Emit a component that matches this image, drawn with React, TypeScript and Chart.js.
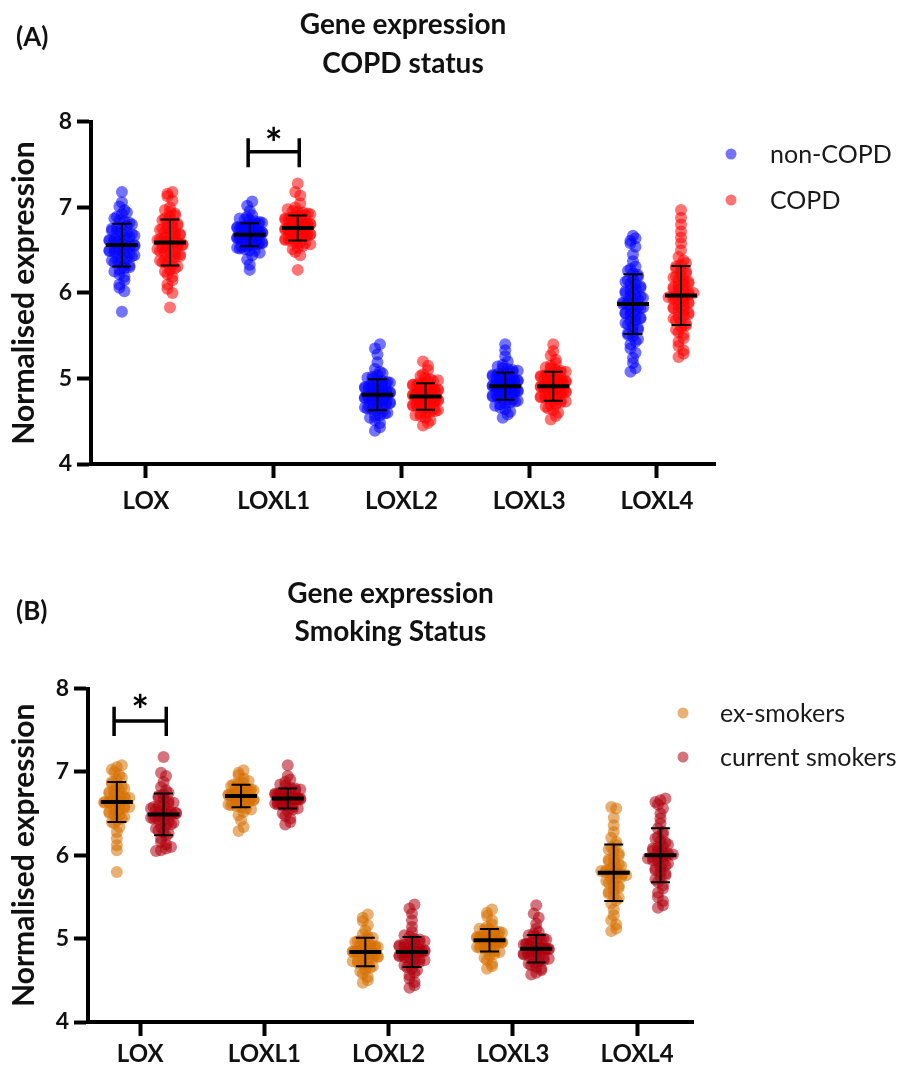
import React, { useEffect, useRef } from 'react';
import { Chart, registerables } from 'chart.js';

Chart.register(...registerables);

const genes = ['LOX', 'LOXL1', 'LOXL2', 'LOXL3', 'LOXL4'];
const yTickValues = [4, 5, 6, 7, 8];

// ---------- Panel A: COPD status (values read from the dot clouds) ----------
const nonCOPD_LOX = [7.18, 7.06, 7.01, 6.97, 6.94, 6.92, 6.89, 6.87, 6.85, 6.84, 6.82, 6.80, 6.79, 6.77, 6.76, 6.75, 6.73, 6.72, 6.71, 6.70, 6.69, 6.67, 6.66, 6.65, 6.64, 6.63, 6.62, 6.61, 6.60, 6.59, 6.58, 6.57, 6.56,
  5.78, 6.02, 6.06, 6.10, 6.15, 6.19, 6.22, 6.25, 6.27, 6.29, 6.30, 6.32, 6.33, 6.35, 6.36, 6.38, 6.39, 6.40, 6.41, 6.43, 6.44, 6.45, 6.46, 6.47, 6.48, 6.49, 6.50, 6.51, 6.52, 6.53, 6.54, 6.55, 6.56];
const nonCOPD_LOXL1 = [7.07, 7.02, 6.96, 6.91, 6.89, 6.87, 6.86, 6.85, 6.84, 6.83, 6.82, 6.81, 6.80, 6.79, 6.79, 6.78, 6.77, 6.77, 6.76, 6.75, 6.75, 6.74, 6.74, 6.73, 6.72, 6.72, 6.71, 6.71, 6.70, 6.70, 6.69, 6.69, 6.68,
  6.27, 6.33, 6.39, 6.44, 6.47, 6.49, 6.50, 6.51, 6.52, 6.53, 6.54, 6.55, 6.56, 6.57, 6.57, 6.58, 6.59, 6.59, 6.60, 6.61, 6.61, 6.62, 6.62, 6.63, 6.64, 6.64, 6.65, 6.65, 6.66, 6.66, 6.67, 6.67, 6.68];
const nonCOPD_LOXL2 = [5.40, 5.35, 5.28, 5.19, 5.11, 5.08, 5.06, 5.04, 5.02, 5.01, 4.99, 4.98, 4.97, 4.96, 4.95, 4.94, 4.93, 4.92, 4.92, 4.91, 4.90, 4.89, 4.88, 4.88, 4.87, 4.86, 4.85, 4.85, 4.84, 4.83, 4.82, 4.82, 4.81,
  4.39, 4.43, 4.48, 4.51, 4.54, 4.56, 4.57, 4.59, 4.60, 4.61, 4.63, 4.64, 4.65, 4.66, 4.67, 4.68, 4.69, 4.70, 4.70, 4.71, 4.72, 4.73, 4.74, 4.74, 4.75, 4.76, 4.77, 4.77, 4.78, 4.79, 4.80, 4.80, 4.81];
const nonCOPD_LOXL3 = [5.40, 5.33, 5.26, 5.20, 5.16, 5.14, 5.12, 5.11, 5.10, 5.09, 5.08, 5.07, 5.06, 5.05, 5.04, 5.03, 5.02, 5.01, 5.00, 5.00, 4.99, 4.98, 4.98, 4.97, 4.96, 4.96, 4.95, 4.94, 4.94, 4.93, 4.92, 4.92, 4.91,
  4.54, 4.58, 4.61, 4.64, 4.66, 4.68, 4.70, 4.71, 4.72, 4.73, 4.74, 4.75, 4.76, 4.77, 4.78, 4.79, 4.80, 4.81, 4.82, 4.82, 4.83, 4.84, 4.84, 4.85, 4.86, 4.86, 4.87, 4.88, 4.88, 4.89, 4.90, 4.90, 4.91];
const nonCOPD_LOXL4 = [6.67, 6.64, 6.61, 6.58, 6.54, 6.45, 6.37, 6.31, 6.28, 6.26, 6.23, 6.21, 6.19, 6.17, 6.15, 6.13, 6.11, 6.10, 6.08, 6.06, 6.05, 6.03, 6.02, 6.00, 5.98, 5.97, 5.96, 5.94, 5.93, 5.91, 5.90, 5.89, 5.87,
  5.08, 5.12, 5.18, 5.24, 5.30, 5.35, 5.40, 5.43, 5.46, 5.49, 5.51, 5.53, 5.55, 5.57, 5.59, 5.61, 5.63, 5.65, 5.67, 5.68, 5.70, 5.71, 5.73, 5.75, 5.76, 5.77, 5.79, 5.80, 5.82, 5.83, 5.84, 5.86, 5.87];

const COPD_LOX = [7.18, 7.16, 7.13, 7.08, 7.00, 6.97, 6.95, 6.93, 6.91, 6.89, 6.87, 6.85, 6.84, 6.82, 6.81, 6.79, 6.78, 6.76, 6.75, 6.74, 6.72, 6.71, 6.70, 6.69, 6.68, 6.67, 6.66, 6.65, 6.63, 6.62, 6.61, 6.60, 6.59,
  5.83, 6.00, 6.05, 6.10, 6.15, 6.19, 6.22, 6.25, 6.27, 6.29, 6.31, 6.33, 6.35, 6.36, 6.38, 6.39, 6.41, 6.42, 6.43, 6.45, 6.46, 6.47, 6.48, 6.49, 6.51, 6.52, 6.53, 6.54, 6.55, 6.56, 6.57, 6.58, 6.59];
const COPD_LOXL1 = [7.28, 7.18, 7.14, 7.05, 7.00, 6.98, 6.96, 6.95, 6.94, 6.93, 6.92, 6.91, 6.90, 6.89, 6.88, 6.87, 6.86, 6.86, 6.85, 6.84, 6.83, 6.83, 6.82, 6.81, 6.81, 6.80, 6.79, 6.79, 6.78, 6.78, 6.77, 6.77, 6.76,
  6.27, 6.44, 6.48, 6.51, 6.53, 6.55, 6.57, 6.58, 6.59, 6.60, 6.61, 6.62, 6.63, 6.64, 6.64, 6.65, 6.66, 6.67, 6.67, 6.68, 6.69, 6.69, 6.70, 6.71, 6.71, 6.72, 6.72, 6.73, 6.74, 6.74, 6.75, 6.75, 6.76];
const COPD_LOXL2 = [5.20, 5.15, 5.10, 5.05, 5.03, 5.01, 4.99, 4.98, 4.97, 4.96, 4.95, 4.94, 4.93, 4.92, 4.91, 4.91, 4.90, 4.89, 4.88, 4.87, 4.87, 4.86, 4.85, 4.85, 4.84, 4.83, 4.83, 4.82, 4.82, 4.81, 4.80, 4.80, 4.79,
  4.45, 4.48, 4.51, 4.54, 4.56, 4.57, 4.59, 4.60, 4.61, 4.62, 4.63, 4.64, 4.65, 4.66, 4.67, 4.68, 4.68, 4.69, 4.70, 4.71, 4.71, 4.72, 4.73, 4.73, 4.74, 4.75, 4.75, 4.76, 4.77, 4.77, 4.78, 4.78, 4.79];
const COPD_LOXL3 = [5.40, 5.32, 5.27, 5.22, 5.18, 5.15, 5.13, 5.12, 5.10, 5.09, 5.08, 5.07, 5.06, 5.05, 5.04, 5.03, 5.02, 5.01, 5.00, 5.00, 4.99, 4.98, 4.97, 4.97, 4.96, 4.95, 4.95, 4.94, 4.93, 4.93, 4.92, 4.91, 4.91,
  4.52, 4.56, 4.60, 4.63, 4.65, 4.67, 4.69, 4.70, 4.72, 4.73, 4.74, 4.75, 4.76, 4.77, 4.78, 4.79, 4.80, 4.81, 4.82, 4.82, 4.83, 4.84, 4.85, 4.85, 4.86, 4.87, 4.87, 4.88, 4.89, 4.89, 4.90, 4.90, 4.91];
const COPD_LOXL4 = [6.97, 6.88, 6.80, 6.72, 6.65, 6.58, 6.50, 6.42, 6.38, 6.35, 6.33, 6.31, 6.29, 6.27, 6.25, 6.23, 6.21, 6.19, 6.18, 6.16, 6.14, 6.13, 6.11, 6.10, 6.08, 6.07, 6.05, 6.04, 6.02, 6.01, 6.00, 5.98, 5.97,
  5.25, 5.29, 5.33, 5.38, 5.43, 5.47, 5.51, 5.54, 5.57, 5.60, 5.62, 5.64, 5.66, 5.68, 5.70, 5.72, 5.74, 5.75, 5.77, 5.79, 5.80, 5.82, 5.83, 5.85, 5.86, 5.88, 5.89, 5.91, 5.92, 5.93, 5.95, 5.96, 5.97];

const nonCOPDMean = [6.56, 6.68, 4.81, 4.91, 5.87];
const nonCOPDSD = [0.25, 0.135, 0.18, 0.16, 0.35];
const COPDMean = [6.59, 6.76, 4.79, 4.91, 5.97];
const COPDSD = [0.27, 0.145, 0.155, 0.17, 0.345];

// ---------- Panel B: smoking status ----------
const ex_LOX = [7.08, 7.06, 7.03, 7.00, 6.96, 6.93, 6.91, 6.88, 6.86, 6.84, 6.82, 6.80, 6.79, 6.77, 6.76, 6.74, 6.73, 6.71, 6.70, 6.69, 6.68, 6.66, 6.65, 6.65, 6.64,
  5.80, 6.06, 6.12, 6.20, 6.28, 6.34, 6.38, 6.40, 6.42, 6.44, 6.46, 6.48, 6.49, 6.51, 6.52, 6.54, 6.55, 6.57, 6.58, 6.59, 6.60, 6.62, 6.63, 6.63, 6.64];
const ex_LOXL1 = [7.02, 6.99, 6.96, 6.92, 6.89, 6.87, 6.86, 6.85, 6.83, 6.82, 6.81, 6.80, 6.79, 6.78, 6.77, 6.77, 6.76, 6.75, 6.74, 6.74, 6.73, 6.72, 6.72, 6.71, 6.71,
  6.29, 6.34, 6.42, 6.48, 6.52, 6.55, 6.56, 6.58, 6.59, 6.60, 6.61, 6.62, 6.63, 6.64, 6.65, 6.65, 6.66, 6.67, 6.68, 6.68, 6.69, 6.69, 6.70, 6.70, 6.71];
const ex_LOXL2 = [5.29, 5.25, 5.21, 5.16, 5.10, 5.05, 5.03, 5.01, 5.00, 4.98, 4.97, 4.96, 4.94, 4.93, 4.92, 4.91, 4.90, 4.89, 4.88, 4.87, 4.87, 4.86, 4.85, 4.85, 4.84,
  4.47, 4.50, 4.54, 4.58, 4.61, 4.63, 4.65, 4.67, 4.69, 4.70, 4.71, 4.73, 4.74, 4.75, 4.76, 4.77, 4.78, 4.79, 4.80, 4.81, 4.82, 4.82, 4.83, 4.83, 4.84];
const ex_LOXL3 = [5.35, 5.31, 5.27, 5.22, 5.17, 5.14, 5.12, 5.11, 5.10, 5.09, 5.08, 5.07, 5.06, 5.05, 5.04, 5.04, 5.03, 5.02, 5.01, 5.01, 5.00, 4.99, 4.99, 4.98, 4.98,
  4.64, 4.67, 4.70, 4.74, 4.77, 4.80, 4.82, 4.84, 4.85, 4.87, 4.88, 4.89, 4.90, 4.91, 4.92, 4.92, 4.93, 4.94, 4.95, 4.95, 4.96, 4.96, 4.97, 4.97, 4.98];
const ex_LOXL4 = [6.58, 6.56, 6.45, 6.36, 6.28, 6.21, 6.16, 6.12, 6.10, 6.07, 6.05, 6.02, 6.00, 5.97, 5.95, 5.93, 5.91, 5.89, 5.87, 5.85, 5.84, 5.82, 5.81, 5.80, 5.79,
  5.09, 5.12, 5.17, 5.22, 5.28, 5.35, 5.42, 5.46, 5.49, 5.52, 5.54, 5.56, 5.58, 5.61, 5.63, 5.65, 5.67, 5.69, 5.71, 5.72, 5.74, 5.76, 5.77, 5.78, 5.79];

const cur_LOX = [7.18, 6.99, 6.95, 6.88, 6.82, 6.78, 6.75, 6.73, 6.71, 6.69, 6.67, 6.65, 6.63, 6.62, 6.60, 6.59, 6.58, 6.56, 6.55, 6.54, 6.53, 6.52, 6.51, 6.50, 6.49,
  6.05, 6.06, 6.08, 6.10, 6.13, 6.16, 6.20, 6.23, 6.26, 6.28, 6.30, 6.32, 6.34, 6.36, 6.37, 6.39, 6.40, 6.42, 6.43, 6.44, 6.45, 6.46, 6.47, 6.48, 6.49];
const cur_LOXL1 = [7.08, 6.95, 6.91, 6.88, 6.85, 6.83, 6.81, 6.80, 6.79, 6.78, 6.77, 6.76, 6.75, 6.74, 6.73, 6.73, 6.72, 6.71, 6.71, 6.70, 6.70, 6.69, 6.69, 6.68, 6.68,
  6.37, 6.40, 6.44, 6.47, 6.50, 6.53, 6.55, 6.56, 6.58, 6.59, 6.60, 6.61, 6.62, 6.63, 6.63, 6.64, 6.65, 6.65, 6.66, 6.66, 6.67, 6.67, 6.67, 6.68, 6.68];
const cur_LOXL2 = [5.41, 5.36, 5.30, 5.22, 5.14, 5.08, 5.04, 5.02, 5.00, 4.99, 4.97, 4.96, 4.95, 4.94, 4.93, 4.92, 4.91, 4.90, 4.89, 4.88, 4.87, 4.86, 4.85, 4.85, 4.84,
  4.41, 4.44, 4.48, 4.52, 4.56, 4.59, 4.62, 4.64, 4.66, 4.68, 4.70, 4.71, 4.72, 4.74, 4.75, 4.76, 4.77, 4.78, 4.79, 4.80, 4.81, 4.82, 4.83, 4.83, 4.84];
const cur_LOXL3 = [5.40, 5.30, 5.25, 5.18, 5.12, 5.08, 5.06, 5.04, 5.03, 5.01, 5.00, 4.99, 4.98, 4.96, 4.95, 4.94, 4.93, 4.93, 4.92, 4.91, 4.90, 4.89, 4.89, 4.88, 4.88,
  4.57, 4.59, 4.62, 4.64, 4.66, 4.68, 4.70, 4.72, 4.73, 4.74, 4.76, 4.77, 4.78, 4.79, 4.80, 4.81, 4.82, 4.83, 4.84, 4.85, 4.85, 4.86, 4.87, 4.87, 4.88];
const cur_LOXL4 = [6.68, 6.66, 6.64, 6.61, 6.56, 6.50, 6.44, 6.38, 6.32, 6.28, 6.25, 6.22, 6.20, 6.17, 6.15, 6.13, 6.11, 6.09, 6.08, 6.06, 6.05, 6.03, 6.02, 6.01, 6.00,
  5.37, 5.40, 5.45, 5.50, 5.55, 5.60, 5.64, 5.68, 5.71, 5.74, 5.76, 5.78, 5.80, 5.82, 5.84, 5.86, 5.88, 5.90, 5.91, 5.93, 5.94, 5.96, 5.97, 5.98, 5.99];

const exMean = [6.64, 6.71, 4.84, 4.98, 5.79];
const exSD = [0.24, 0.135, 0.17, 0.135, 0.34];
const curMean = [6.49, 6.68, 4.84, 4.88, 6.00];
const curSD = [0.25, 0.12, 0.18, 0.165, 0.325];

const nonCOPD = [nonCOPD_LOX, nonCOPD_LOXL1, nonCOPD_LOXL2, nonCOPD_LOXL3, nonCOPD_LOXL4];
const COPD = [COPD_LOX, COPD_LOXL1, COPD_LOXL2, COPD_LOXL3, COPD_LOXL4];
const exSmokers = [ex_LOX, ex_LOXL1, ex_LOXL2, ex_LOXL3, ex_LOXL4];
const curSmokers = [cur_LOX, cur_LOXL1, cur_LOXL2, cur_LOXL3, cur_LOXL4];

const SIDE_OFF = 0.188;
const FONT = 'Lato, "Open Sans", sans-serif';
const INK = '#111';

// deterministic beeswarm layout (rows of near-equal values spread horizontally)
function swarm(values: number[], cat: number, side: number, xPx: number, yPx: number) {
  const sorted = [...values].sort((a, b) => a - b);
  const binH = 5 / yPx;
  const rows: number[][] = [];
  let cur: number[] = [];
  let start = -Infinity;
  for (const v of sorted) {
    if (cur.length && v - start < binH) cur.push(v);
    else {
      if (cur.length) rows.push(cur);
      cur = [v];
      start = v;
    }
  }
  if (cur.length) rows.push(cur);
  const pts: { x: number; y: number }[] = [];
  rows.forEach((row, r) => {
    const n = row.length;
    const sp = n > 1 ? Math.min(5, 25 / (n - 1)) : 0;
    const order = row.map((_, i) => i);
    if (r % 2) order.reverse();
    order.forEach((slot, i) => {
      pts.push({ x: cat + side * SIDE_OFF + ((slot - (n - 1) / 2) * sp) / xPx, y: row[i] });
    });
  });
  return pts;
}

type Series = { label: string; groups: number[][]; mean: number[]; sd: number[]; color: string; side: number };

type PanelCfg = {
  height: number;
  top: number;
  tag: string;
  tagY: number;
  title: string[];
  titleLH: number;
  titlePad: { top: number; bottom: number };
  yWidth: number;
  xHeight: number;
  xPad: number;
  padRight: number;
  xMin: number;
  xMax: number;
  xPx: number;
  yPx: number;
  series: Series[];
  legend: { x: number; tx: number; y: number[] };
  bracket: { cat: number; half: number; top: number; mid: number; bot: number; star: number };
};

function Panel({ cfg }: { cfg: PanelCfg }) {
  const ref = useRef<HTMLCanvasElement | null>(null);
  useEffect(() => {
    if (!ref.current) return;
    const decor = {
      id: 'decor',
      afterDatasetsDraw(chart: any) {
        const { ctx, scales } = chart;
        const xs = scales.x;
        const ys = scales.y;
        ctx.save();
        ctx.strokeStyle = '#000';
        ctx.lineCap = 'butt';
        cfg.series.forEach((s) => {
          genes.forEach((_, i) => {
            const cx = xs.getPixelForValue(i + s.side * SIDE_OFF);
            const ym = ys.getPixelForValue(s.mean[i]);
            const yt = ys.getPixelForValue(s.mean[i] + s.sd[i]);
            const yb = ys.getPixelForValue(s.mean[i] - s.sd[i]);
            ctx.lineWidth = 2;
            ctx.beginPath();
            ctx.moveTo(cx, yt);
            ctx.lineTo(cx, yb);
            ctx.moveTo(cx - 9.5, yt);
            ctx.lineTo(cx + 9.5, yt);
            ctx.moveTo(cx - 9.5, yb);
            ctx.lineTo(cx + 9.5, yb);
            ctx.stroke();
            ctx.lineWidth = 4;
            ctx.beginPath();
            ctx.moveTo(cx - 16, ym);
            ctx.lineTo(cx + 16, ym);
            ctx.stroke();
          });
        });
        ctx.restore();
      },
      afterDraw(chart: any) {
        const { ctx, scales } = chart;
        const xs = scales.x;
        const ys = scales.y;
        ctx.save();
        // panel tag
        ctx.fillStyle = INK;
        ctx.font = `bold 26px ${FONT}`;
        ctx.textAlign = 'left';
        ctx.textBaseline = 'middle';
        ctx.fillText(cfg.tag, 16, cfg.tagY);
        // legend
        cfg.series.forEach((s, k) => {
          const y = cfg.legend.y[k];
          ctx.fillStyle = s.color;
          ctx.beginPath();
          ctx.arc(cfg.legend.x, y, 5.5, 0, Math.PI * 2);
          ctx.fill();
          ctx.fillStyle = '#1a1a1a';
          ctx.font = `25px ${FONT}`;
          ctx.textAlign = 'left';
          ctx.textBaseline = 'middle';
          ctx.fillText(s.label, cfg.legend.tx, y + 1);
        });
        // significance bracket
        const b = cfg.bracket;
        const xl = xs.getPixelForValue(b.cat - b.half);
        const xr = xs.getPixelForValue(b.cat + b.half);
        const yT = ys.getPixelForValue(b.top);
        const yM = ys.getPixelForValue(b.mid);
        const yB = ys.getPixelForValue(b.bot);
        ctx.strokeStyle = '#000';
        ctx.lineWidth = 3.5;
        ctx.beginPath();
        ctx.moveTo(xl, yT);
        ctx.lineTo(xl, yB);
        ctx.moveTo(xr, yT);
        ctx.lineTo(xr, yB);
        ctx.moveTo(xl, yM);
        ctx.lineTo(xr, yM);
        ctx.stroke();
        ctx.fillStyle = '#000';
        ctx.font = `bold 42px ${FONT}`;
        ctx.textAlign = 'center';
        ctx.textBaseline = 'alphabetic';
        const m = ctx.measureText('*');
        const cy = ys.getPixelForValue(b.star);
        ctx.fillText('*', (xl + xr) / 2, cy + (m.actualBoundingBoxAscent - m.actualBoundingBoxDescent) / 2);
        ctx.restore();
      },
    };

    const chart = new Chart(ref.current, {
      type: 'scatter',
      data: {
        datasets: cfg.series.map((s) => ({
          label: s.label,
          data: s.groups.flatMap((vals, i) => swarm(vals, i, s.side, cfg.xPx, cfg.yPx)),
          backgroundColor: s.color,
          borderWidth: 0,
          pointRadius: 6,
          pointHoverRadius: 6,
        })),
      },
      options: {
        responsive: false,
        animation: false,
        events: [],
        layout: { padding: { left: 0, right: cfg.padRight, top: 0, bottom: 0 } },
        plugins: {
          legend: { display: false },
          tooltip: { enabled: false },
          title: {
            display: true,
            text: cfg.title,
            fullSize: false,
            color: INK,
            font: { family: FONT, size: 28, weight: 'bold', lineHeight: cfg.titleLH },
            padding: cfg.titlePad,
          },
        },
        scales: {
          x: {
            type: 'linear',
            min: cfg.xMin,
            max: cfg.xMax,
            afterBuildTicks: (s: any) => {
              s.ticks = genes.map((_, i) => ({ value: i }));
            },
            afterFit: (s: any) => {
              s.height = cfg.xHeight;
            },
            ticks: {
              autoSkip: false,
              maxRotation: 0,
              padding: cfg.xPad,
              color: INK,
              font: { family: FONT, size: 24, weight: 'bold' },
              callback: (v: any) => genes[Math.round(Number(v))] ?? '',
            },
            grid: { drawOnChartArea: false, drawTicks: true, tickLength: 14, tickWidth: 4, tickColor: '#000' },
            border: { display: true, color: '#000', width: 4 },
          },
          y: {
            min: 4,
            max: 8,
            afterBuildTicks: (s: any) => {
              s.ticks = yTickValues.map((v) => ({ value: v }));
            },
            afterFit: (s: any) => {
              s.width = cfg.yWidth;
            },
            ticks: {
              padding: 5,
              color: INK,
              font: { family: FONT, size: 23, weight: 'bold' },
              callback: (v: any) => String(v),
            },
            grid: { drawOnChartArea: false, drawTicks: true, tickLength: 14, tickWidth: 4, tickColor: '#000' },
            border: { display: true, color: '#000', width: 4 },
            title: {
              display: true,
              text: 'Normalised expression',
              color: INK,
              font: { family: FONT, size: 30, weight: 'bold', lineHeight: 1.2 },
              padding: { top: 6, bottom: 0 },
            },
          },
        },
      },
      plugins: [decor],
    } as any);
    return () => chart.destroy();
  }, [cfg]);

  return (
    <canvas
      ref={ref}
      width={908}
      height={cfg.height}
      style={{ position: 'absolute', left: 0, top: cfg.top, display: 'block' }}
    />
  );
}

const panelA: PanelCfg = {
  height: 530,
  top: 0,
  tag: '(A)',
  tagY: 38,
  title: ['Gene expression', 'COPD status'],
  titleLH: 1.39,
  titlePad: { top: 5.5, bottom: 38.6 },
  yWidth: 91,
  xHeight: 66,
  xPad: 9,
  padRight: 193,
  xMin: -0.43,
  xMax: 4.454,
  xPx: 127.75,
  yPx: 85.5,
  series: [
    { label: 'non-COPD', groups: nonCOPD, mean: nonCOPDMean, sd: nonCOPDSD, color: 'rgba(0,0,255,0.55)', side: -1 },
    { label: 'COPD', groups: COPD, mean: COPDMean, sd: COPDSD, color: 'rgba(255,0,0,0.55)', side: 1 },
  ],
  legend: { x: 731, tx: 770, y: [154, 200] },
  bracket: { cat: 1, half: 0.2, top: 7.81, mid: 7.65, bot: 7.47, star: 7.87 },
};

const panelB: PanelCfg = {
  height: 528,
  top: 540,
  tag: '(B)',
  tagY: 72,
  title: ['Gene expression', 'Smoking Status'],
  titleLH: 1.37,
  titlePad: { top: 34.8, bottom: 37 },
  yWidth: 88,
  xHeight: 46,
  xPad: 4,
  padRight: 215,
  xMin: -0.42,
  xMax: 4.45,
  xPx: 124.25,
  yPx: 83.4,
  series: [
    { label: 'ex-smokers', groups: exSmokers, mean: exMean, sd: exSD, color: 'rgba(214,112,0,0.55)', side: -1 },
    { label: 'current smokers', groups: curSmokers, mean: curMean, sd: curSD, color: 'rgba(175,0,15,0.55)', side: 1 },
  ],
  legend: { x: 683, tx: 720, y: [713, 757].map((v) => v - 540) },
  bracket: { cat: 0, half: 0.21, top: 7.78, mid: 7.61, bot: 7.43, star: 7.86 },
};

export default function App() {
  return (
    <div style={{ position: 'absolute', left: 0, top: 0, width: 908, height: 1068, background: '#fff' }}>
      <Panel cfg={panelA} />
      <Panel cfg={panelB} />
    </div>
  );
}
